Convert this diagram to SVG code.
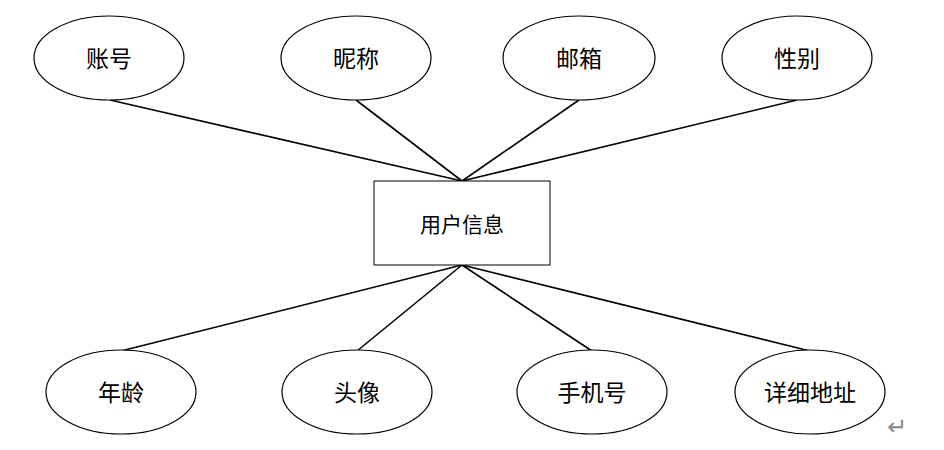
<svg xmlns="http://www.w3.org/2000/svg" width="944" height="450" viewBox="0 0 944 450">
<style>
.e{fill:#fff;stroke:#000;stroke-width:1.2}
.r{fill:#fff;stroke:#000;stroke-width:1}
.t{font-family:"Noto Sans CJK SC",sans-serif;font-size:23px;fill:#000;text-anchor:middle;dominant-baseline:central}
.tr{font-size:21px}
.c line{stroke:#000;stroke-width:1.6}
</style>
<rect width="944" height="450" fill="#fff"/>
<g class="c" id="connectors">
<line x1="110" y1="100" x2="462" y2="181"/>
<line x1="356" y1="100" x2="462" y2="181"/>
<line x1="579" y1="100" x2="462" y2="181"/>
<line x1="797" y1="100" x2="462" y2="181"/>
<line x1="462" y1="265" x2="121" y2="351"/>
<line x1="462" y1="265" x2="357" y2="351"/>
<line x1="462" y1="265" x2="592" y2="351"/>
<line x1="462" y1="265" x2="810" y2="351"/>
</g>
<g id="n-zhanghao"><ellipse class="e" cx="109" cy="58" rx="75" ry="42"/><text class="t" x="109" y="57">账号</text></g>
<g id="n-nicheng"><ellipse class="e" cx="356" cy="58" rx="75" ry="42"/><text class="t" x="356" y="57">昵称</text></g>
<g id="n-youxiang"><ellipse class="e" cx="579" cy="58" rx="76" ry="42"/><text class="t" x="579" y="57">邮箱</text></g>
<g id="n-xingbie"><ellipse class="e" cx="797" cy="58" rx="75" ry="42"/><text class="t" x="797" y="57">性别</text></g>
<g id="n-user"><rect class="r" x="374" y="181" width="176" height="84"/><text class="t tr" x="462" y="223">用户信息</text></g>
<g id="n-nianling"><ellipse class="e" cx="121" cy="392" rx="75" ry="42"/><text class="t" x="121" y="391">年龄</text></g>
<g id="n-touxiang"><ellipse class="e" cx="357" cy="392" rx="75" ry="42"/><text class="t" x="357" y="391">头像</text></g>
<g id="n-shoujihao"><ellipse class="e" cx="592" cy="392" rx="75" ry="42"/><text class="t" x="592" y="391">手机号</text></g>
<g id="n-dizhi"><ellipse class="e" cx="810" cy="392" rx="75" ry="42"/><text class="t" x="810" y="391">详细地址</text></g>
<text x="897" y="427" font-family="DejaVu Sans,sans-serif" font-size="24" fill="#888" text-anchor="middle" dominant-baseline="central">↵</text>
</svg>
